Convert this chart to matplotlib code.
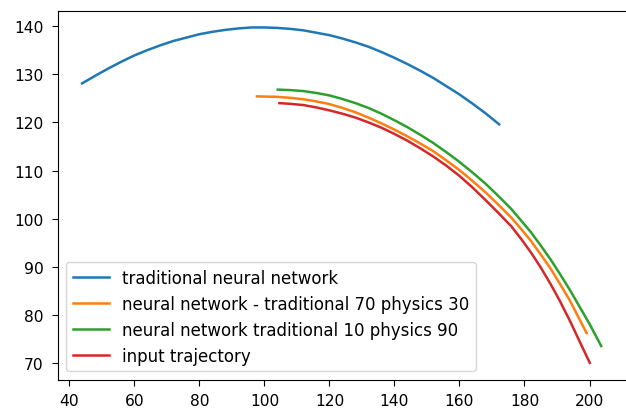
import matplotlib
matplotlib.use("Agg")
import matplotlib.pyplot as plt

# traditional neural network
blue_x = [43.9, 48, 52, 56, 60, 64, 68, 72, 76, 80, 84, 88, 92, 96, 100, 104, 108, 112, 116,
          120, 124, 128, 132, 136, 140, 144, 148, 152, 156, 160, 164, 168, 172.2]
blue_y = [128.1, 129.7, 131.2, 132.6, 133.9, 135.0, 136.0, 136.9, 137.6, 138.3, 138.8, 139.2,
          139.5, 139.7, 139.7, 139.6, 139.4, 139.1, 138.6, 138.1, 137.4, 136.6, 135.7, 134.6,
          133.4, 132.1, 130.7, 129.2, 127.5, 125.8, 123.9, 121.9, 119.6]

# neural network - traditional 70 physics 30
orange_x = [97.7, 104, 108, 112, 116, 120, 124, 128, 132, 136, 140, 144, 148, 152, 156, 160,
            164, 168, 172, 176, 179, 182, 185, 188, 191, 194, 196.5, 199.1]
orange_y = [125.4, 125.3, 125.1, 124.8, 124.35, 123.8, 123.0, 122.1, 121.0, 119.8, 118.5, 117.1,
            115.6, 114.0, 112.1, 110.1, 107.85, 105.5, 102.9, 100.2, 97.85, 95.4, 92.6, 89.7,
            86.4, 83.0, 79.7, 76.3]

# neural network traditional 10 physics 90
green_x = [104.1, 108, 112, 116, 120, 124, 128, 132, 136, 140, 144, 148, 152, 156, 160, 164,
           168, 172, 176, 179, 182, 185, 188, 191, 194, 197, 200, 203.6]
green_y = [126.8, 126.7, 126.5, 126.1, 125.6, 124.85, 124.0, 123.0, 121.8, 120.45, 119.0, 117.4,
           115.7, 113.8, 111.8, 109.6, 107.3, 104.7, 102.0, 99.6, 97.2, 94.45, 91.6, 88.45,
           85.2, 81.7, 78.2, 73.6]

# input trajectory
red_x = [104.6, 108, 112, 116, 120, 124, 128, 132, 136, 140, 144, 148, 152, 156, 160, 164,
         168, 172, 176, 179, 182, 185, 188, 191, 194, 197, 200.1]
red_y = [124.0, 123.85, 123.6, 123.1, 122.5, 121.8, 121.0, 120.0, 118.9, 117.6, 116.2, 114.6,
         112.9, 111.0, 108.9, 106.5, 103.9, 101.2, 98.4, 95.8, 93.0, 89.9, 86.5, 82.8, 78.8,
         74.5, 70.1]

labels = [
    "traditional neural network",
    "neural network - traditional 70 physics 30",
    "neural network traditional 10 physics 90",
    "input trajectory",
]

x_ticks = [40, 60, 80, 100, 120, 140, 160, 180, 200]
y_ticks = [70, 80, 90, 100, 110, 120, 130, 140]

TICK_FS = 11.2
LEG_FS = 12.0
plt.rcParams['font.family'] = ['DejaVu Sans']

fig = plt.figure(figsize=(6.26, 4.10), dpi=100)
ax = fig.add_axes([0.0922, 0.0715, 0.917, 0.900])

lw = 1.8
ax.plot(blue_x, blue_y, color='#1f77b4', lw=lw, label=labels[0])
ax.plot(orange_x, orange_y, color='#ff7f0e', lw=lw, label=labels[1])
ax.plot(green_x, green_y, color='#2ca02c', lw=lw, label=labels[2])
ax.plot(red_x, red_y, color='#d62728', lw=lw, label=labels[3])

ax.set_xlim(36.4, 213.0)
ax.set_xticks(x_ticks)
ax.set_yticks(y_ticks)
ax.tick_params(axis='y', labelsize=TICK_FS, length=4, pad=6)
ax.tick_params(axis='x', labelsize=TICK_FS, length=4, pad=5.5)

ax.legend(loc='lower left', fontsize=LEG_FS, labelspacing=0.48, handlelength=2.15)

fig.savefig("out.png", dpi=100)
